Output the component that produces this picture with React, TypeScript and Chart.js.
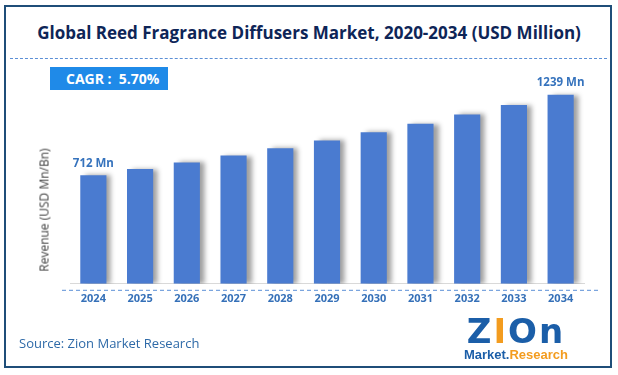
import React, { useEffect, useRef } from "react";
import { Chart, registerables } from "chart.js";
Chart.register(...registerables);

const years = ["2024", "2025", "2026", "2027", "2028", "2029", "2030", "2031", "2032", "2033", "2034"];
const revenue = [712, 753, 796, 841, 889, 940, 993, 1050, 1110, 1173, 1239];
const barLabels = ["712 Mn", "", "", "", "", "", "", "", "", "", "1239 Mn"];
const chartTitle = "Global Reed Fragrance Diffusers Market, 2020-2034 (USD Million)";
const cagrText = "CAGR :  5.70%";
const yTitle = "Revenue (USD Mn/Bn)";
const sourceText = "Source: Zion Market Research";

const FONT = "'Open Sans', 'Noto Sans', sans-serif";

export default function App() {
  const ref = useRef<HTMLCanvasElement | null>(null);

  useEffect(() => {
    document.body.style.margin = "0";
    const canvas = ref.current;
    if (!canvas) return;

    const shadowPlugin = {
      id: "barShadow",
      beforeDatasetsDraw(chart: any) {
        const ctx = chart.ctx;
        ctx.save();
        ctx.shadowColor = "rgba(0,0,0,0.38)";
        ctx.shadowBlur = 5;
        ctx.shadowOffsetX = 5;
        ctx.shadowOffsetY = 0;
      },
      afterDatasetsDraw(chart: any) {
        const ctx = chart.ctx;
        ctx.restore();
        const meta = chart.getDatasetMeta(0);
        ctx.save();
        ctx.fillStyle = "#3673bd";
        ctx.font = `bold 11.5px ${FONT}`;
        ctx.textAlign = "center";
        ctx.textBaseline = "bottom";
        meta.data.forEach((bar: any, i: number) => {
          const t = barLabels[i];
          if (t) ctx.fillText(t, bar.x, bar.y - 6);
        });
        ctx.restore();
      },
      afterDraw(chart: any) {
        const ctx = chart.ctx;
        const a = chart.chartArea;
        ctx.save();
        ctx.strokeStyle = "#5b8fd6";
        ctx.lineWidth = 1;
        ctx.setLineDash([4, 3]);
        ctx.beginPath();
        ctx.moveTo(a.left - 8, a.bottom + 6.5);
        ctx.lineTo(a.right + 16, a.bottom + 6.5);
        ctx.stroke();
        ctx.restore();
      },
    };

    const chart = new Chart(canvas, {
      type: "bar",
      data: {
        labels: years,
        datasets: [
          {
            data: revenue,
            backgroundColor: "#4a7bd0",
            borderWidth: 0,
            barPercentage: 0.56,
            categoryPercentage: 1,
          },
        ],
      },
      options: {
        animation: false,
        responsive: false,
        maintainAspectRatio: false,
        layout: { padding: { left: 70, right: 34, top: 55, bottom: 62 } },
        plugins: { legend: { display: false }, tooltip: { enabled: false } },
        scales: {
          x: {
            grid: { display: false, drawTicks: false },
            border: { display: true, color: "#d9d9d9", width: 1 },
            ticks: {
              color: "#3570b8",
              font: { family: FONT, weight: "bold", size: 11 },
              padding: 8,
            },
          },
          y: {
            display: false,
            min: 0,
            max: 1500,
          },
        },
      },
      plugins: [shadowPlugin],
    });
    return () => chart.destroy();
  }, []);

  return (
    <div style={{ position: "relative", width: 618, height: 375, background: "#fff", overflow: "hidden" }}>
      <div
        style={{
          position: "absolute",
          left: 4,
          top: 5,
          width: 604,
          height: 359,
          border: "2px solid #1f4e79",
        }}
      />
      <div
        style={{
          position: "absolute",
          left: 0,
          top: 20,
          width: 618,
          textAlign: "center",
          fontFamily: FONT,
          fontWeight: 700,
          fontSize: 17,
          color: "#0e2557",
          lineHeight: "26px",
        }}
      >
        {chartTitle}
      </div>
      <div
        style={{
          position: "absolute",
          left: 10,
          top: 58,
          width: 597,
          borderTop: "1px dashed #5b8fd6",
        }}
      />
      <canvas ref={ref} width={618} height={375} style={{ position: "absolute", left: 0, top: 0 }} />
      <div
        style={{
          position: "absolute",
          left: 50,
          top: 67,
          width: 118,
          height: 23,
          background: "#1f8ae8",
          color: "#fff",
          fontFamily: FONT,
          fontWeight: 700,
          fontSize: 14,
          lineHeight: "23px",
          paddingLeft: 16,
          boxSizing: "border-box",
          whiteSpace: "pre",
        }}
      >
        {cagrText}
      </div>
      <div
        style={{
          position: "absolute",
          left: 44,
          top: 210,
          transform: "translate(-50%, -50%) rotate(-90deg)",
          whiteSpace: "nowrap",
          fontFamily: FONT,
          fontSize: 12,
          color: "#404040",
        }}
      >
        {yTitle}
      </div>
      <div
        style={{
          position: "absolute",
          left: 19,
          top: 334,
          fontFamily: FONT,
          fontSize: 13,
          color: "#2e6aa8",
        }}
      >
        {sourceText}
      </div>
      <div style={{ position: "absolute", left: 456, top: 314, width: 120, textAlign: "center" }}>
        <div
          style={{
            fontFamily: "'DejaVu Sans', sans-serif",
            fontWeight: 900,
            fontSize: 34,
            lineHeight: "34px",
            color: "#1b5ea8",
            letterSpacing: 2,
          }}
        >
          Z<span style={{ color: "#f39c1f" }}>I</span>On
        </div>
        <div
          style={{
            fontFamily: "'Liberation Sans', sans-serif",
            fontWeight: 700,
            fontSize: 13,
            lineHeight: "15px",
            marginTop: -1,
          }}
        >
          <span style={{ color: "#1b5ea8" }}>Market.</span>
          <span style={{ color: "#f39c1f" }}>Research</span>
        </div>
      </div>
    </div>
  );
}
